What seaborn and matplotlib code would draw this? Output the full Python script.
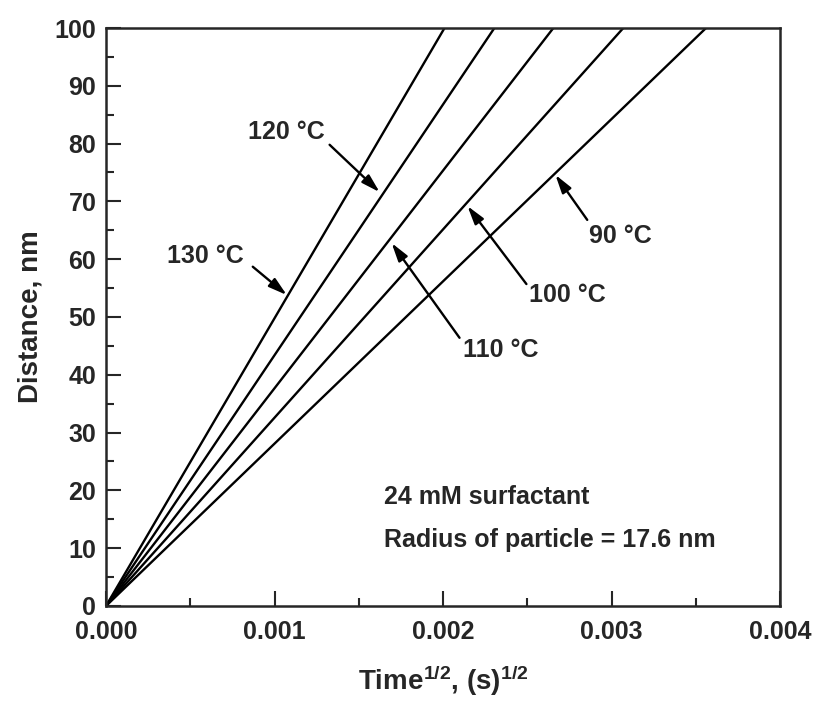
import matplotlib
matplotlib.use("Agg")
import matplotlib.pyplot as plt
from matplotlib.ticker import MultipleLocator, FormatStrFormatter
import seaborn as sns
import pandas as pd

# Data: each line runs from the origin to distance = 100 nm
temps = ["130 °C", "120 °C", "110 °C", "100 °C", "90 °C"]
x_end = [0.002009, 0.002305, 0.002655, 0.003070, 0.003561]
y_end = [100, 100, 100, 100, 100]

# Annotation positions (data coords): label center, arrow tail, arrow tip
label_xy = [(0.00059, 60.6), (0.00107, 82.0), (0.00234, 44.3), (0.00274, 53.8), (0.00305, 64.0)]
tail_xy = [(0.000871, 58.7), (0.001327, 79.8), (0.002098, 46.4), (0.002495, 55.7), (0.002856, 66.8)]
tip_xy = [(0.001073, 53.8), (0.001624, 71.6), (0.001695, 62.8), (0.002145, 69.2), (0.002667, 74.6)]

xticks = [0.000, 0.001, 0.002, 0.003, 0.004]
yticks = [0, 10, 20, 30, 40, 50, 60, 70, 80, 90, 100]

sns.set_style("ticks")
plt.rcParams['font.family'] = ['Liberation Sans', 'DejaVu Sans']
plt.rcParams['font.weight'] = 'bold'
plt.rcParams['mathtext.fontset'] = 'custom'
plt.rcParams['mathtext.rm'] = 'Liberation Sans:bold'
plt.rcParams['mathtext.bf'] = 'Liberation Sans:bold'
plt.rcParams['mathtext.default'] = 'bf'

rows = []
for t, xe, ye in zip(temps, x_end, y_end):
    rows.append({"x": 0.0, "y": 0.0, "temp": t})
    rows.append({"x": xe, "y": ye, "temp": t})
df = pd.DataFrame(rows)

fig = plt.figure(figsize=(8.16, 7.02), dpi=100)
ax = fig.add_axes([0.1299, 0.1368, 0.8260, 0.8233])

sns.lineplot(data=df, x="x", y="y", units="temp", estimator=None,
             color="black", linewidth=1.7, ax=ax)

ax.set_xlim(0, 0.004)
ax.set_ylim(0, 100)
ax.set_xticks(xticks)
ax.set_yticks(yticks)
ax.xaxis.set_major_formatter(FormatStrFormatter('%.3f'))
ax.xaxis.set_minor_locator(MultipleLocator(0.0005))
ax.yaxis.set_minor_locator(MultipleLocator(5))
ax.tick_params(which='major', direction='in', length=11, width=1.5,
               labelsize=18, top=False, right=False)
ax.tick_params(axis='x', which='major', pad=10)
ax.tick_params(axis='y', which='major', pad=7)
ax.tick_params(which='minor', direction='in', length=6, width=1.5,
               top=False, right=False)
for lab in ax.get_xticklabels() + ax.get_yticklabels():
    lab.set_fontweight('bold')
for s in ax.spines.values():
    s.set_linewidth(1.8)
    s.set_visible(True)

ax.set_xlabel(r"Time$^{1/2}$, (s)$^{1/2}$", fontsize=20, fontweight='bold', labelpad=14)
ax.set_ylabel("Distance, nm", fontsize=20, fontweight='bold', labelpad=8)

for t, lxy, txy, pxy in zip(temps, label_xy, tail_xy, tip_xy):
    ax.text(lxy[0], lxy[1], t, fontsize=18, fontweight='bold', ha='center', va='center')
    ax.annotate("", xy=pxy, xytext=txy,
                arrowprops=dict(arrowstyle="-|>,head_length=1.1,head_width=0.32",
                                color="black", lw=1.7, shrinkA=0, shrinkB=0))

ax.text(0.00165, 18.9, "24 mM surfactant", fontsize=18, fontweight='bold', ha='left', va='center')
ax.text(0.00165, 11.4, "Radius of particle = 17.6 nm", fontsize=18, fontweight='bold', ha='left', va='center')

fig.savefig("out.png", dpi=100)
